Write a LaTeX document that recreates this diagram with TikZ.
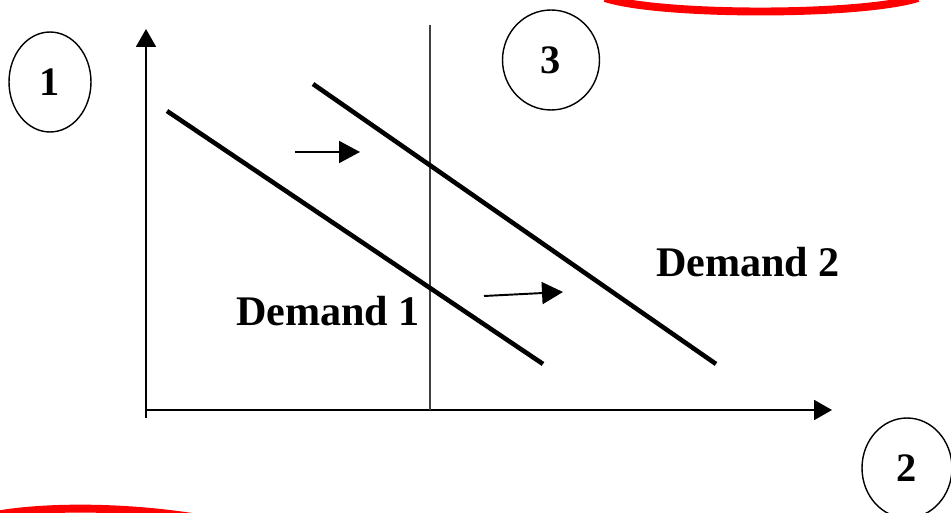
\documentclass[tikz,border=0pt]{standalone}
\usepackage{fontspec}
\setmainfont{Liberation Serif}
\usetikzlibrary{arrows.meta, shapes.geometric}

\begin{document}
\begin{tikzpicture}[
    x=0.02cm, y=-0.02cm,
    axis/.style={line width=1.1pt, -{Triangle[length=0.36cm, width=0.4cm]}},
    demand/.style={line width=2.6pt},
    shift_arrow/.style={line width=1.1pt, -{Triangle[length=0.42cm, width=0.44cm]}},
    marker/.style={ellipse, draw, line width=0.8pt, inner sep=0pt, minimum height=2cm, font=\fontsize{23}{27}\selectfont\bfseries},
    demand_label/.style={font=\fontsize{24}{28}\selectfont\bfseries},
    highlight/.style={red, line width=4.5pt}
]
\useasboundingbox (0,0) rectangle (951,513);

% Axes
\coordinate (origin) at (146,410);
\coordinate (ybot) at (146,418);
\coordinate (ytop) at (146,29);
\coordinate (xend) at (832,410);
\draw[axis] (ybot) -- (ytop);
\draw[axis] (origin) -- (xend);

% Vertical line
\coordinate (vtop) at (430,25);
\coordinate (vbot) at (430,410);
\draw[line width=0.8pt, black!75] (vtop) -- (vbot);

% Demand curves
\coordinate (d1a) at (167,111);
\coordinate (d1b) at (543,364);
\coordinate (d2a) at (313,84);
\coordinate (d2b) at (716,364);
\draw[demand] (d1a) -- (d1b);
\draw[demand] (d2a) -- (d2b);

% Shift arrows
\coordinate (s1a) at (295,152);
\coordinate (s1b) at (360,152);
\coordinate (s2a) at (484,296);
\coordinate (s2b) at (563,292);
\draw[shift_arrow] (s1a) -- (s1b);
\draw[shift_arrow] (s2a) -- (s2b);

% Labels
\node[demand_label] (dem1) at (328,311) {Demand 1};
\node[demand_label] (dem2) at (748,262) {Demand 2};

% Circled markers
\node[marker, minimum width=1.64cm] (m1) at (50,82) {1};
\node[marker, minimum width=1.94cm] (m3) at (551,60) {3};
\node[marker, minimum width=1.8cm] (m2) at (907,468) {2};

% Red marks
\draw[highlight] (605,-2) .. controls (660,16) and (860,16) .. (918,-2);
\draw[highlight] (-10,516) .. controls (40,506) and (120,506) .. (192,517);

\end{tikzpicture}
\end{document}
